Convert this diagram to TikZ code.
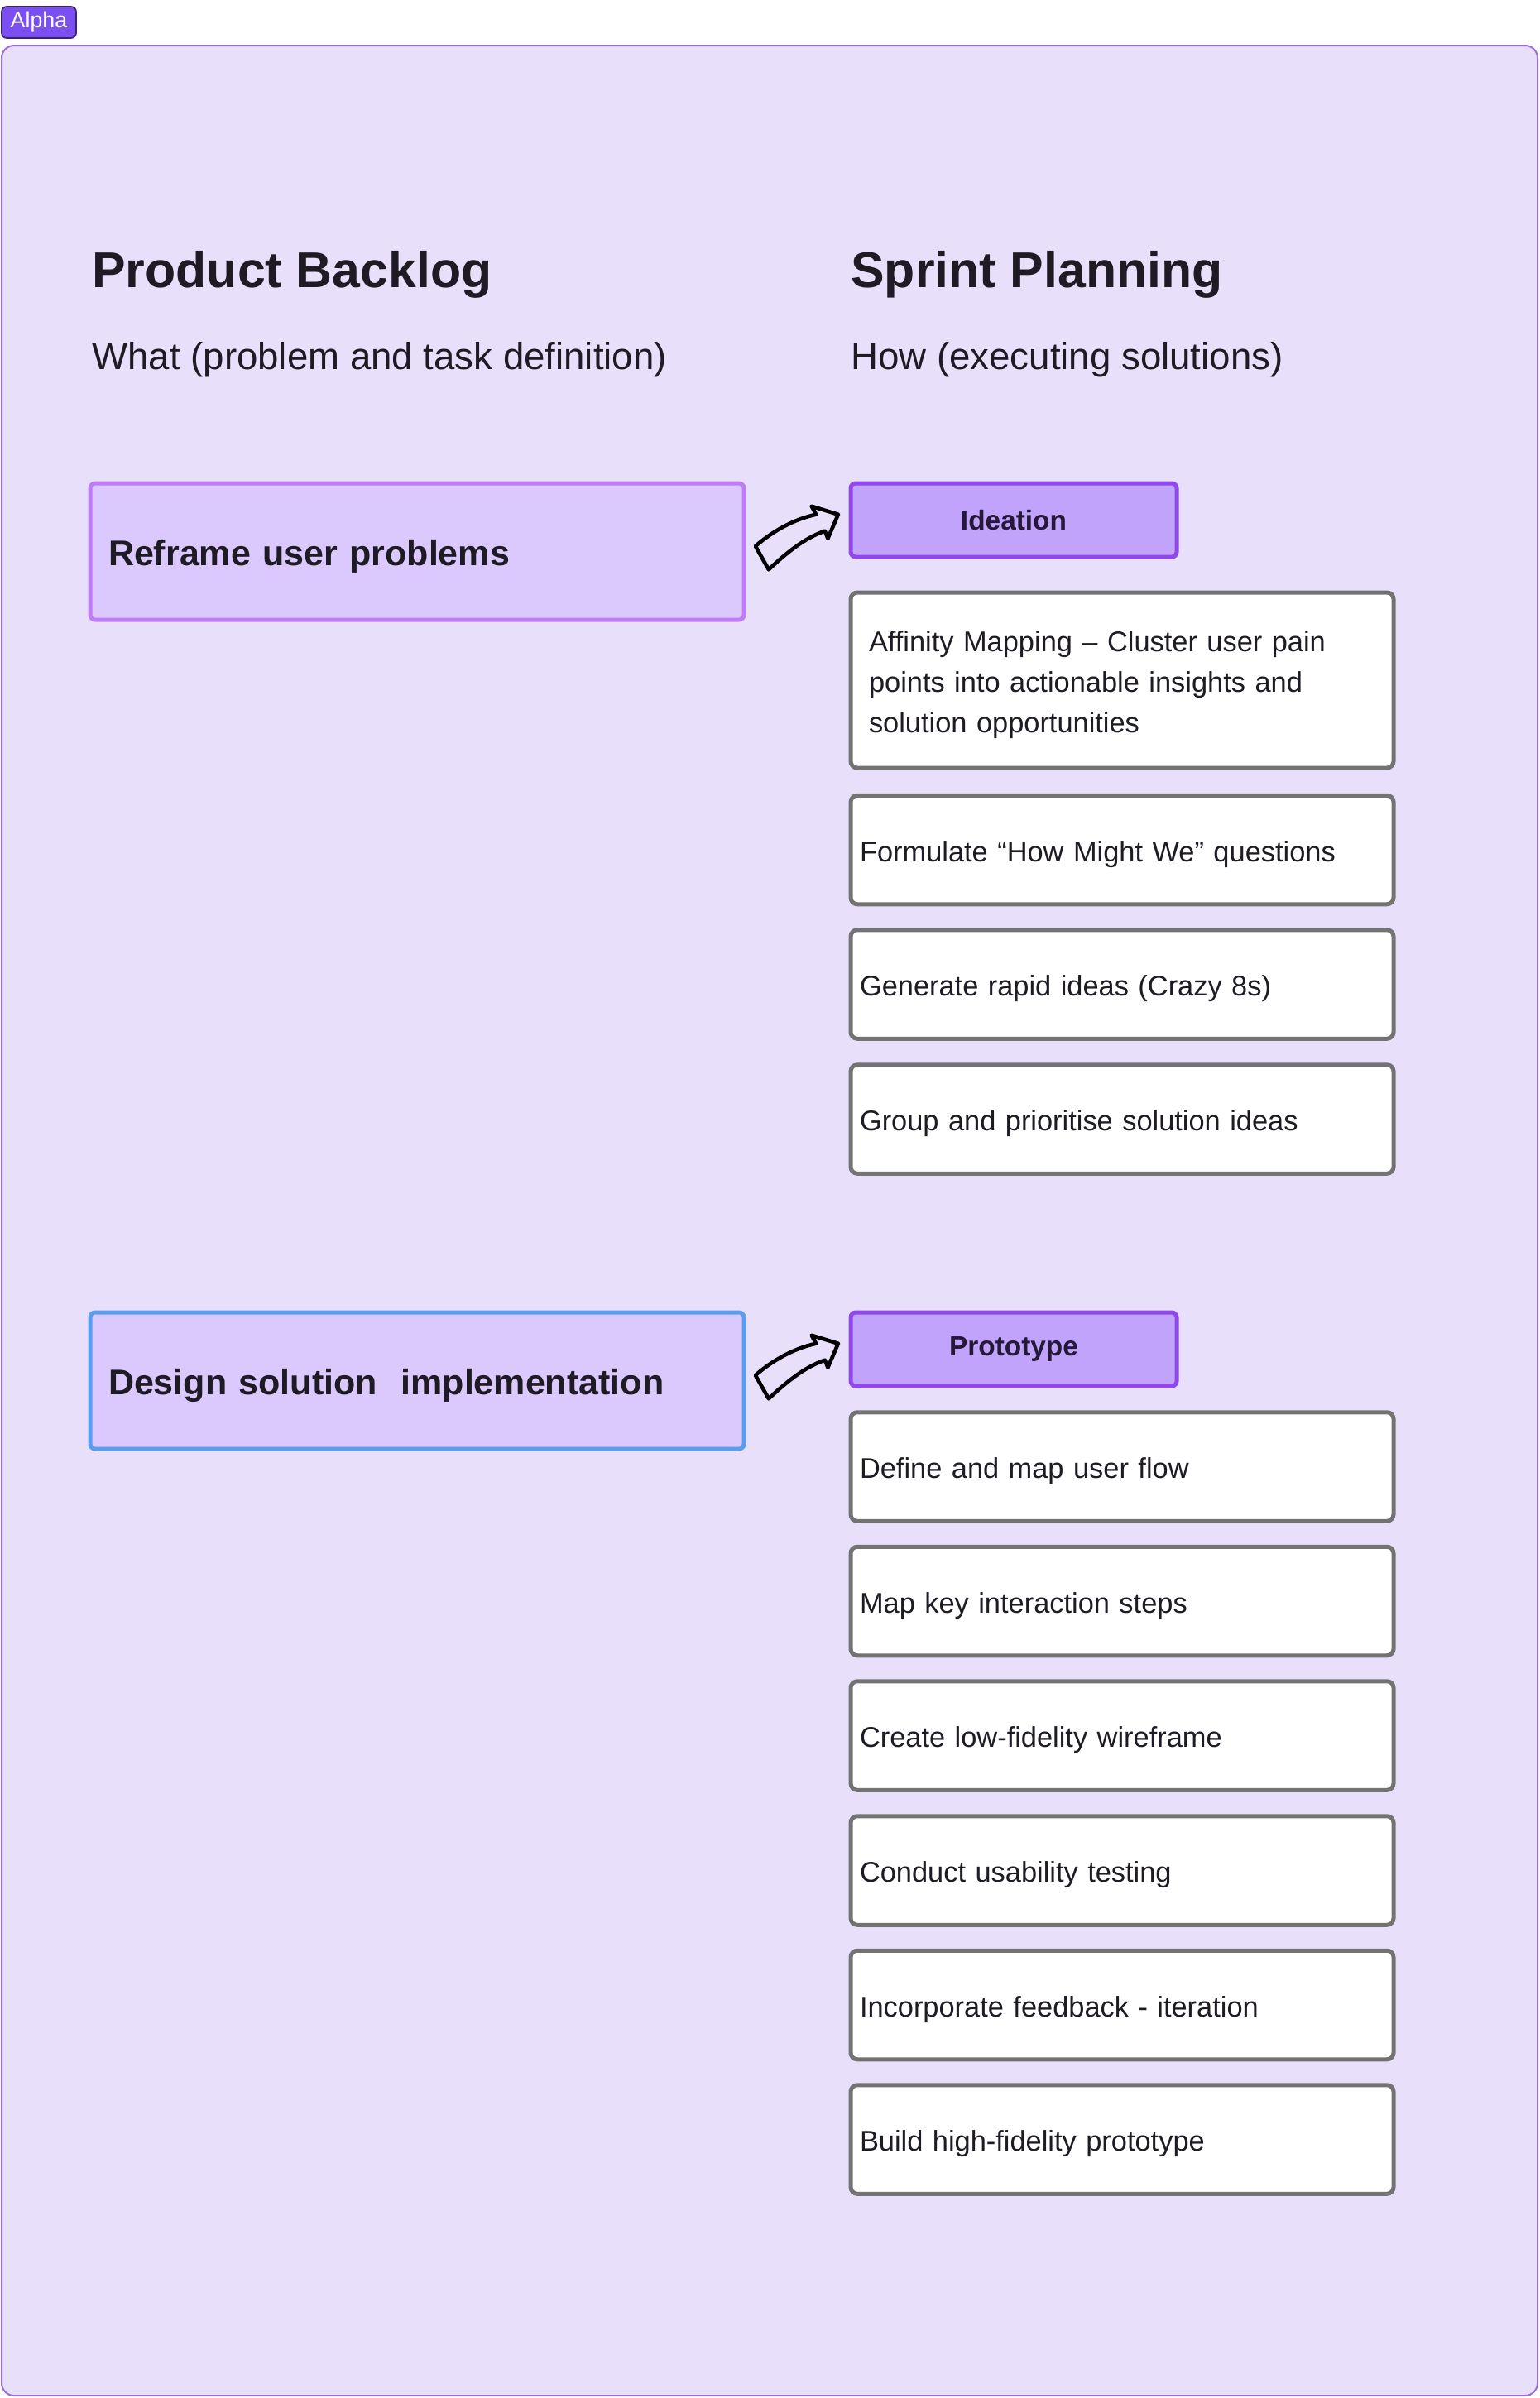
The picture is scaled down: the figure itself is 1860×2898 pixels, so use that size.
\documentclass[tikz,border=0pt]{standalone}
\usepackage{fontspec}
\setmainfont{Liberation Sans}
\definecolor{bgfill}{HTML}{E8E0FA}
\definecolor{frameline}{HTML}{9C6FDD}
\definecolor{tagfill}{HTML}{7B4FF2}
\definecolor{tagline}{HTML}{3A2270}
\definecolor{probfill}{HTML}{DBC8FD}
\definecolor{probline}{HTML}{C07CF6}
\definecolor{designline}{HTML}{5A9CF0}
\definecolor{phasefill}{HTML}{C1A3FC}
\definecolor{phaseline}{HTML}{9147EC}
\definecolor{boxline}{HTML}{737373}
\definecolor{ink}{HTML}{1F1B24}
\definecolor{phaseink}{HTML}{261838}
\newcommand\handarrow[1]{%
  \begin{scope}[shift={(#1.east)}]
    \draw[black, line width=2.3pt, line join=round]
      (11.4,-6.5) .. controls (31,-23.5) and (56,-38.5) .. (84.6,-44.8)
      -- (79.2,-54.8) -- (111.4,-44.8) -- (98.9,-15.8) -- (95.3,-24.8)
      .. controls (71,-16.5) and (49,1.5) .. (27.4,21.8) -- cycle;
  \end{scope}}
\begin{document}
\begin{tikzpicture}[x=0.5pt,y=-0.5pt,
  heading/.style={anchor=base west, inner sep=0pt, text=ink,
    font=\fontsize{30.4}{36}\selectfont\bfseries},
  subhead/.style={anchor=base west, inner sep=0pt, text=ink,
    font=\fontsize{22.8}{27}\selectfont},
  probbox/.style={draw=probline, fill=probfill, line width=2.5pt, rounded corners=3pt,
    minimum width=395pt, minimum height=82.5pt, inner xsep=11pt, text width=373pt,
    align=left, text=ink, font=\fontsize{21.5}{26}\selectfont\bfseries,
    text height=16.7pt, text depth=0pt},
  phasebox/.style={draw=phaseline, fill=phasefill, line width=2.5pt, rounded corners=3pt,
    minimum width=197pt, minimum height=44.5pt, text=phaseink,
    font=\fontsize{16.7}{20}\selectfont\bfseries},
  taskbox/.style={draw=boxline, fill=white, line width=2.5pt, rounded corners=4pt,
    minimum width=328pt, minimum height=65.75pt, inner xsep=5.5pt, text width=317pt,
    align=left, text=ink, font=\fontsize{17.2}{24.5}\selectfont,
    text height=14.4pt, text depth=0pt},
  tag/.style={draw=tagline, fill=tagfill, line width=0.8pt, rounded corners=3pt,
    minimum width=45pt, minimum height=19pt, inner sep=0pt, text=white,
    font=\fontsize{13.4}{15}\selectfont}
]
\useasboundingbox (0,0) rectangle (1860,2898);
\fill[white] (0,0) rectangle (1860,2898);
\draw[frameline, fill=bgfill, line width=1pt, rounded corners=7.5pt] (2,55) rectangle (1858,2895);
\node[tag] (alpha) at (47,27) {Alpha};

\node[heading] (pb) at (111,347) {Product Backlog};
\node[subhead] (pbsub) at (111,446) {What (problem and task definition)};
\node[heading] (sp) at (1028,347) {Sprint Planning};
\node[subhead] (spsub) at (1028,446) {How (executing solutions)};

\node[probbox] (reframe) at (504,666.5) {Reframe user problems};
\node[probbox, draw=designline] (design) at (504,1668.5) {Design solution\ \ implementation};

\node[phasebox] (ideation) at (1225,628.5) {Ideation};
\node[phasebox] (prototype) at (1225,1630.5) {Prototype};

\node[taskbox, minimum height=106pt, inner xsep=11pt, text width=306pt,
      text height=12.5pt, text depth=47.1pt] (affinity) at (1356,822)
  {Affinity Mapping – Cluster user pain\\points into actionable insights and\\solution opportunities};
\node[taskbox] (hmw) at (1356,1027) {Formulate “How Might We” questions};
\node[taskbox] (crazy) at (1356,1189.5) {Generate rapid ideas (Crazy 8s)};
\node[taskbox] (group) at (1356,1352.5) {Group and prioritise solution ideas};

\node[taskbox] (flow) at (1356,1772.5) {Define and map user flow};
\node[taskbox] (steps) at (1356,1935) {Map key interaction steps};
\node[taskbox] (wire) at (1356,2097.5) {Create low-fidelity wireframe};
\node[taskbox] (test) at (1356,2260.5) {Conduct usability testing};
\node[taskbox] (iter) at (1356,2423) {Incorporate feedback - iteration};
\node[taskbox] (hifi) at (1356,2585.5) {Build high-fidelity prototype};

\handarrow{reframe}
\handarrow{design}
\end{tikzpicture}
\end{document}
